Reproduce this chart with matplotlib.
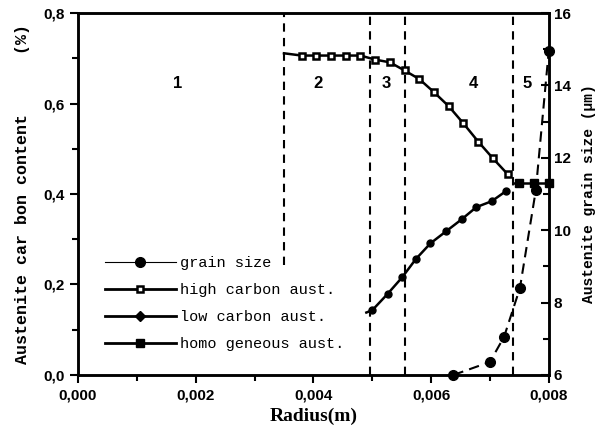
import matplotlib
matplotlib.use("Agg")
from matplotlib import pyplot as plt
from matplotlib.lines import Line2D
from matplotlib.ticker import MultipleLocator, FuncFormatter

# data
hc_r = [0.0035, 0.0038, 0.00405, 0.0043, 0.00455, 0.0048, 0.00505, 0.0053, 0.00555,
        0.0058, 0.00605, 0.0063, 0.00655, 0.0068, 0.00705, 0.0073]
hc_c = [0.711, 0.706, 0.706, 0.706, 0.706, 0.706, 0.697, 0.691, 0.673,
        0.654, 0.625, 0.594, 0.556, 0.516, 0.479, 0.444]

lc_r = [0.0049, 0.0050, 0.00526, 0.00551, 0.00574, 0.00599, 0.00626, 0.00652, 0.00677, 0.00703, 0.00727]
lc_c = [0.138, 0.143, 0.179, 0.216, 0.256, 0.291, 0.318, 0.344, 0.371, 0.384, 0.406]

hom_r = [0.0074, 0.0075, 0.00775, 0.008]
hom_c = [0.424, 0.424, 0.424, 0.424]

gs_r = [0.00638, 0.0070, 0.00724, 0.00751, 0.00778, 0.008]
gs_d = [6.0, 6.36, 7.05, 8.4, 11.1, 14.95]

zone_x = [0.0035, 0.00497, 0.00556, 0.0074]
zone_top = [0.8, 0.8, 0.8, 0.8]
zone_bot = [0.243, 0.0, 0.0, 0.0]
zone_lbl = ["1", "2", "3", "4", "5"]
zone_lbl_x = [0.0017, 0.00407, 0.00523, 0.00672, 0.00764]

mono = "Liberation Mono"
sans = "Liberation Sans"


def comma(dec):
    return FuncFormatter(lambda x, p: f"{x:.{dec}f}".replace(".", ","))


def main():
    fig = plt.figure(figsize=(6.05, 4.34), dpi=100)
    ax = fig.add_axes([0.129, 0.136, 0.778, 0.834])
    ax2 = ax.twinx()

    for x, lo, hi in zip(zone_x, zone_bot, zone_top):
        ax.plot([x, x], [lo, hi], color="black", ls=(0, (4, 3)), lw=1.5)
    for t, x in zip(zone_lbl, zone_lbl_x):
        ax.text(x, 0.645, t, ha="center", va="center", fontsize=12,
                fontweight="bold", family=sans)

    ax.plot(hc_r, hc_c, color="black", lw=1.8, marker="s", ms=5, mfc="white",
            mec="black", mew=1.8, markevery=list(range(1, len(hc_r))))
    ax.plot(lc_r, lc_c, color="black", lw=1.8, marker="o", ms=5,
            markevery=list(range(1, len(lc_r))))
    ax.plot(hom_r, hom_c, color="black", lw=1.8, marker="s", ms=6,
            markevery=[1, 2, 3], clip_on=False, zorder=5)
    ax2.plot(gs_r, gs_d, color="black", lw=1.5, ls=(0, (5, 3)), marker="o", ms=7,
             clip_on=False, zorder=5)

    ax.set_xlim(0, 0.008)
    ax.set_ylim(0, 0.8)
    ax2.set_ylim(6, 16)

    ax.xaxis.set_major_locator(MultipleLocator(0.002))
    ax.xaxis.set_minor_locator(MultipleLocator(0.001))
    ax.yaxis.set_major_locator(MultipleLocator(0.2))
    ax.yaxis.set_minor_locator(MultipleLocator(0.1))
    ax2.yaxis.set_major_locator(MultipleLocator(2))
    ax2.yaxis.set_minor_locator(MultipleLocator(1))
    ax.xaxis.set_major_formatter(comma(3))
    ax.yaxis.set_major_formatter(comma(1))

    ax.tick_params(which="both", direction="out", width=1.5, top=False)
    ax.tick_params(which="major", length=6)
    ax.tick_params(which="minor", length=4)
    ax2.tick_params(which="both", direction="in", width=1.5)
    ax2.tick_params(which="major", length=6)
    ax2.tick_params(which="minor", length=4)
    for a in (ax, ax2):
        for s in a.spines.values():
            s.set_linewidth(1.8)
        for lab in a.get_xticklabels() + a.get_yticklabels():
            lab.set_fontweight("bold")
            lab.set_family(sans)
            lab.set_fontsize(11)

    ax.set_xlabel("Radius(m)", family="Liberation Serif", fontsize=14,
                  fontweight="bold", labelpad=4)
    ax.set_ylabel("Austenite car bon content      (%)", family=mono, fontsize=12,
                  fontweight="bold", labelpad=10)
    ax2.set_ylabel("Austenite grain size (\u00b5m)", family=mono, fontsize=10.5,
                   fontweight="bold", labelpad=8)

    handles = [
        Line2D([], [], color="black", lw=0.8, marker="o", ms=7),
        Line2D([], [], color="black", lw=2, marker="s", ms=5, mfc="white", mew=1.8),
        Line2D([], [], color="black", lw=2, marker="D", ms=5),
        Line2D([], [], color="black", lw=2, marker="s", ms=6),
    ]
    labels = ["grain size", "high carbon aust.", "low carbon aust.", "homo geneous aust."]
    ax.legend(handles, labels, loc="upper left", bbox_to_anchor=(0.045, 0.345),
              frameon=False, prop={"family": mono, "size": 11},
              handlelength=4.6, labelspacing=0.85, handletextpad=0.3,
              borderaxespad=0)

    fig.savefig("out.png", dpi=100)


if __name__ == "__main__":
    main()
